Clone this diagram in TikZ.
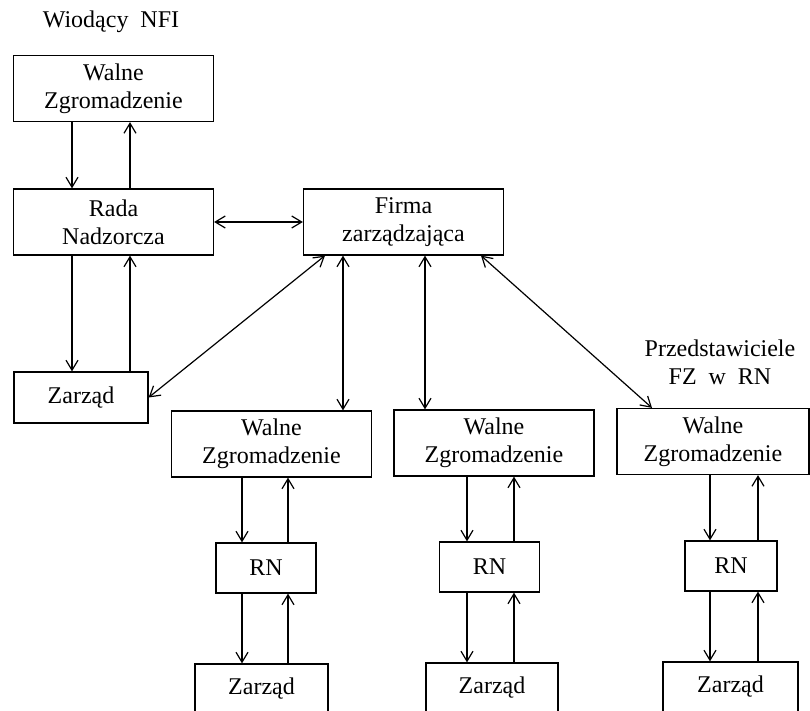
\documentclass[tikz,border=0pt]{standalone}
\usepackage{fontspec}
\setmainfont{Liberation Serif}
\usetikzlibrary{arrows.meta}
\begin{document}
\begin{tikzpicture}[x=0.5pt,y=-0.5pt,line width=0.6pt,
    >={Straight Barb[length=5pt,width=6pt]},
    txt/.style = {align=center, font=\fontsize{12}{14}\selectfont},
    box/.style = {txt, draw, inner sep=0pt,
        minimum width=100pt, minimum height=33pt},
    smallbox/.style = {box, minimum width=50pt, minimum height=25pt}]

\useasboundingbox (0,0) rectangle (810,711);
\clip (0,0) rectangle (810,711);

% Leading fund
\node[txt] (lead) at (111,22) {Wiodący\ \ NFI};
\node[box] (wz1) at (113.5,88.5) {Walne\\Zgromadzenie};
\node[box] (rn1) at (113.5,222) {Rada\\Nadzorcza};
\node[box,minimum width=67pt,minimum height=25.5pt] (zr1) at (81,397.5) {Zarząd};

% Management firm
\node[box] (fz) at (403.5,222) {Firma\\zarządzająca};

% Companies
\node[box] (wz2) at (271.5,444) {Walne\\Zgromadzenie};
\node[box] (wz3) at (494,443) {Walne\\Zgromadzenie};
\node[box,minimum width=96pt] (wz4) at (713,441.5) {Walne\\Zgromadzenie};
\node[txt] (rep) at (720,362) {Przedstawiciele\\FZ\ \ w\ \ RN};

\node[smallbox] (rn2) at (266,568) {RN};
\node[smallbox] (rn3) at (489.5,567) {RN};
\node[smallbox,minimum width=46pt] (rn4) at (731,566) {RN};

\node[smallbox,minimum width=66.5pt] (zr2) at (261.5,689) {Zarząd};
\node[smallbox,minimum width=66pt] (zr3) at (492,688) {Zarząd};
\node[smallbox,minimum width=67.5pt] (zr4) at (730.5,687) {Zarząd};

% Arrows down and up
\foreach \u/\l/\dn/\up in {wz1/rn1/72/130, rn1/zr1/72/130,
    wz2/rn2/242/288, rn2/zr2/242/288,
    wz3/rn3/467/514, rn3/zr3/467/514,
    wz4/rn4/710/758, rn4/zr4/710/758}{
    \draw[->] (\u.south -| \dn,0) -- (\l.north -| \dn,0);
    \draw[->] (\l.north -| \up,0) -- (\u.south -| \up,0);
}

% Links of the firm
\draw[<->] (rn1) -- (fz);
\draw[<->] (zr1.east) -- (fz.south -| 325,0);
\draw[<->] (fz.south -| 343,0) -- (wz2.north -| 343,0);
\draw[<->] (fz.south -| 425,0) -- (wz3.north -| 425,0);
\draw[<->] (fz.south -| 481,0) -- (wz4.north -| 652,0);
\end{tikzpicture}
\end{document}
